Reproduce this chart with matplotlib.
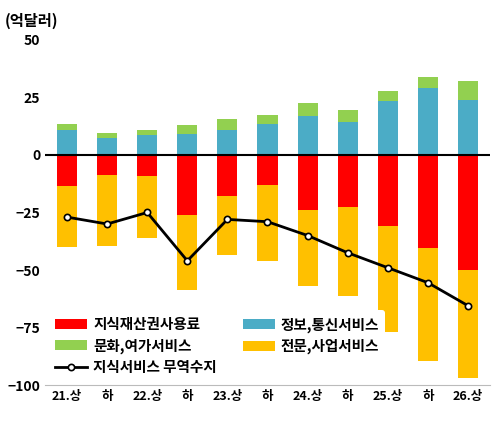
import matplotlib
matplotlib.use("Agg")
import matplotlib.pyplot as plt
import numpy as np

plt.rcParams['font.family'] = ['Noto Sans CJK KR', 'DejaVu Sans']

categories = ['21.상', '하', '22.상', '하', '23.상', '하', '24.상', '하', '25.상', '하', '26.상']
info = [11, 7.5, 8.7, 9, 11, 13.5, 17, 14.5, 23.5, 29, 24]
culture = [2.5, 2, 2.3, 4, 4.5, 4, 5.5, 5, 4.5, 5, 8]
ip = [-13.5, -8.5, -9, -26, -18, -13, -24, -22.5, -31, -40.5, -50]
prof = [-26.5, -31, -27, -32.5, -25.5, -33, -33, -39, -46, -49, -47]
balance = [-27, -30, -25, -46, -28, -29, -35, -42.5, -49, -55.5, -65.5]

fig = plt.figure(figsize=(5, 4.25), dpi=100)
ax = fig.add_axes([0.09, 0.094, 0.89, 0.812])
x = np.arange(len(categories))
w = 0.5
ax.bar(x, ip, w, color='#FF0000', label='지식재산권사용료')
ax.bar(x, info, w, color='#4BACC6', label='정보,통신서비스')
ax.bar(x, culture, w, bottom=info, color='#92D050', label='문화,여가서비스')
ax.bar(x, prof, w, bottom=ip, color='#FFC000', label='전문,사업서비스')
ax.plot(x, balance, color='black', lw=2, marker='o', ms=4.5, mfc='white', mec='black', mew=1.2, label='지식서비스 무역수지')
ax.axhline(0, color='black', lw=1.5)
ax.set_ylim(-100, 50)
ax.set_xlim(-0.55, len(x) - 0.45)
ax.set_yticks([50, 25, 0, -25, -50, -75, -100])
ax.set_xticks(x)
ax.set_xticklabels(categories, fontsize=9, fontweight='bold')
ax.tick_params(axis='y', labelsize=10, length=0)
ax.tick_params(axis='x', length=0)
for l in ax.get_yticklabels():
    l.set_fontweight('bold')
for s in ['top', 'right', 'left']:
    ax.spines[s].set_visible(False)
ax.spines['bottom'].set_color('#bbbbbb')
ax.text(-0.09, 1.04, '(억달러)', transform=ax.transAxes, fontsize=11, fontweight='bold')
h, l = ax.get_legend_handles_labels()
order = [1, 3, 0, 2, 4]
leg = ax.legend([h[i] for i in order], [l[i] for i in order], ncol=2, loc='lower left',
                bbox_to_anchor=(0.0, 0.0), prop={'size': 10.5, 'weight': 'bold'},
                frameon=True, framealpha=1, edgecolor='none', handlelength=2.2,
                columnspacing=1.8, handletextpad=0.4, borderaxespad=0.3, labelspacing=0.35)
leg.set_zorder(10)
fig.savefig('out.png')
